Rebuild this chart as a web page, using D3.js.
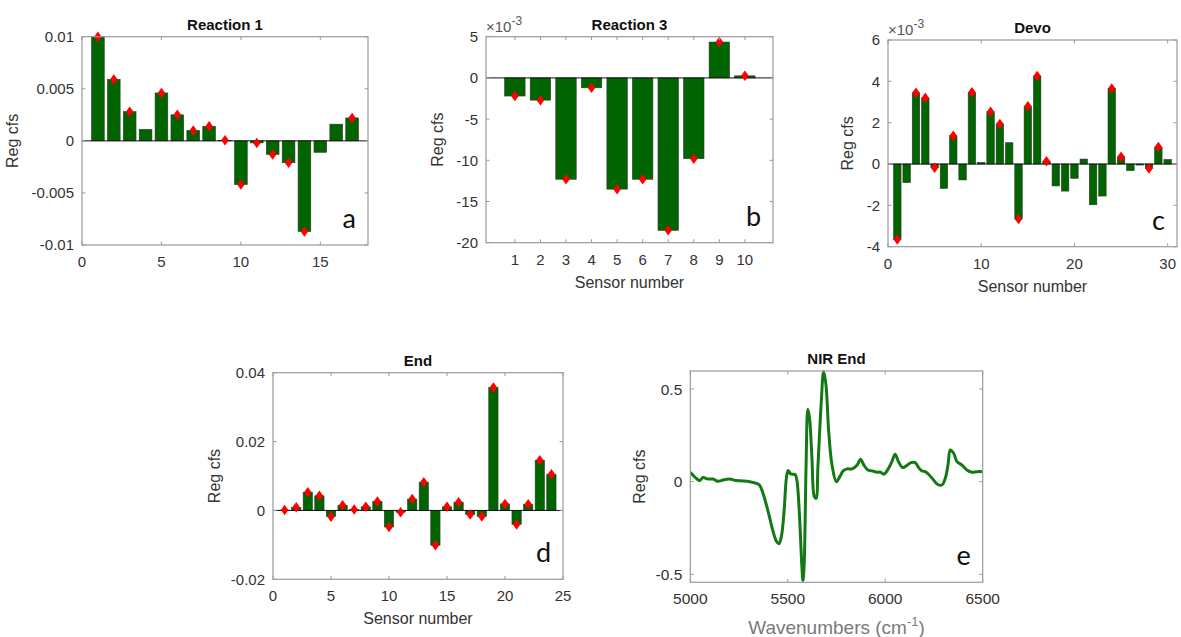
<!DOCTYPE html>
<html>
<head>
<meta charset="utf-8">
<script src="https://cdn.jsdelivr.net/npm/d3@7"></script>
<style>
  body { margin: 0; background: #fff; }
  svg { display: block; font-family: "Liberation Sans", Arial, sans-serif; }
</style>
</head>
<body>
<svg id="chart" width="1181" height="637"></svg>
<script>
// --- data ---
const reaction1 = [0.0100, 0.0059, 0.0028, 0.0011, 0.0046, 0.0025, 0.0010, 0.0014, 0.00005,
  -0.0042, -0.0002, -0.0013, -0.0021, -0.0087, -0.0011, 0.0016, 0.0022];
const reaction1Marked = [1, 2, 3, 5, 6, 7, 8, 9, 10, 11, 12, 13, 14, 17];

const reaction3 = [-0.0022, -0.0027, -0.0123, -0.0012, -0.0135, -0.0123, -0.0185, -0.0098, 0.00435, 0.00025];
const reaction3Marked = [1, 2, 3, 4, 5, 6, 7, 8, 9, 10];

const devo = [-0.00365, -0.0009, 0.00345, 0.0032, -0.00018, -0.00118, 0.00137, -0.00077, 0.00347, 0.00008,
  0.00253, 0.00194, 0.00103, -0.00266, 0.0028, 0.00426, 0.00013, -0.00106, -0.00131, -0.00069,
  0.00024, -0.00197, -0.00155, 0.00365, 0.00035, -0.00032, -0.00005, -0.00022, 0.00082, 0.00022];
const devoMarked = [1, 3, 4, 5, 7, 9, 11, 12, 14, 15, 16, 17, 24, 25, 28, 29];

const endVals = [0.0001, 0.0009, 0.0053, 0.00425, -0.0018, 0.0015, 0.0003, 0.00105, 0.0026, -0.0048,
  -0.0005, 0.0033, 0.0082, -0.0101, 0.00105, 0.0024, -0.00115, -0.00175, 0.0357, 0.0019,
  -0.00405, 0.0018, 0.0146, 0.0105];
const endMarked = d3.range(1, 25);

const nirWavenumber = [5000, 5005, 5020, 5031, 5048, 5065, 5091, 5116, 5142, 5168, 5202, 5236, 5271, 5305,
  5339, 5356, 5373, 5399, 5425, 5442, 5454, 5467, 5481, 5493, 5502, 5515, 5532, 5540, 5548, 5560,
  5572, 5578, 5584, 5594, 5603, 5612, 5624, 5636, 5645, 5655, 5671, 5684, 5696, 5710, 5727, 5749,
  5767, 5784, 5804, 5830, 5856, 5873, 5890, 5911, 5933, 5959, 5976, 5993, 6017, 6034, 6051, 6068,
  6090, 6111, 6132, 6154, 6171, 6188, 6205, 6222, 6248, 6268, 6291, 6308, 6322, 6334, 6351, 6368,
  6393, 6419, 6445, 6471, 6500];
const nirCoef = [0.05, 0.045, 0.028, 0.018, 0.006, 0.022, 0.014, 0.014, 0.002, 0.009, 0.014, 0.006, 0.004, 0.0,
  -0.009, -0.02, -0.063, -0.16, -0.27, -0.322, -0.335, -0.297, -0.16, 0.02, 0.06, 0.042, 0.04, 0.035, 0.0, -0.18,
  -0.45, -0.535, -0.45, 0.09, 0.39, 0.34, 0.128, -0.08, -0.09, 0.09, 0.414, 0.594, 0.522, 0.27, 0.09, 0.0,
  0.027, 0.058, 0.069, 0.069, 0.09, 0.121, 0.09, 0.063, 0.058, 0.051, 0.051, 0.04, 0.072, 0.108, 0.148, 0.108,
  0.076, 0.087, 0.103, 0.103, 0.076, 0.058, 0.054, 0.04, 0.009, -0.014, -0.018, 0.018, 0.09, 0.171, 0.153, 0.108,
  0.09, 0.063, 0.051, 0.054, 0.054];

const svg = d3.select("#chart");
const boxColor = "#9a9a9a";
const textColor = "#333";
const barFill = "#006400";

// axes frame with ticks inside on all four sides (matlab style)
function frame(g, b, x, y, xTicks, yTicks, xFmt, yFmt, fs) {
  g.append("rect")
    .attr("x", b.left).attr("y", b.top)
    .attr("width", b.right - b.left).attr("height", b.bottom - b.top)
    .attr("fill", "none").attr("stroke", boxColor).attr("stroke-width", 1.2);

  const tl = 3.5;
  xTicks.forEach(t => {
    const px = x(t);
    g.append("line").attr("x1", px).attr("x2", px).attr("y1", b.bottom).attr("y2", b.bottom - tl).attr("stroke", boxColor);
    g.append("line").attr("x1", px).attr("x2", px).attr("y1", b.top).attr("y2", b.top + tl).attr("stroke", boxColor);
    g.append("text").attr("x", px).attr("y", b.bottom + 22)
      .attr("text-anchor", "middle").attr("font-size", fs).attr("fill", textColor)
      .text(xFmt(t));
  });
  yTicks.forEach(t => {
    const py = y(t);
    g.append("line").attr("x1", b.left).attr("x2", b.left + tl).attr("y1", py).attr("y2", py).attr("stroke", boxColor);
    g.append("line").attr("x1", b.right).attr("x2", b.right - tl).attr("y1", py).attr("y2", py).attr("stroke", boxColor);
    g.append("text").attr("x", b.left - 8).attr("y", py).attr("dy", "0.36em")
      .attr("text-anchor", "end").attr("font-size", fs).attr("fill", textColor)
      .text(yFmt(t));
  });
}

function labels(g, b, cfg) {
  const cx = (b.left + b.right) / 2;
  g.append("text").attr("x", cx).attr("y", b.top - 7)
    .attr("text-anchor", "middle").attr("font-weight", "bold").attr("font-size", 15).attr("fill", "#111")
    .text(cfg.title);

  g.append("text")
    .attr("transform", `translate(${b.left + cfg.ylabelDx},${(b.top + b.bottom) / 2}) rotate(-90)`)
    .attr("text-anchor", "middle").attr("font-size", 16).attr("fill", textColor)
    .text("Reg cfs");

  if (cfg.xlabel) {
    g.append("text").attr("x", cx).attr("y", b.bottom + 45)
      .attr("text-anchor", "middle").attr("font-size", 16).attr("fill", textColor)
      .text(cfg.xlabel);
  }

  if (cfg.exponent) {
    const t = g.append("text").attr("x", b.left).attr("y", b.top - 5)
      .attr("font-size", 15).attr("fill", "#555");
    t.append("tspan").text("\u00d710");
    t.append("tspan").attr("dy", -7).attr("font-size", 12).text("-3");
  }

  g.append("text").attr("x", b.right - 12).attr("y", b.bottom - 17)
    .attr("text-anchor", "end").attr("font-family", "Lato, 'Open Sans', sans-serif")
    .attr("font-size", 27).attr("fill", "#111")
    .text(cfg.letter);
}

function barPanel(cfg) {
  const b = cfg.box;
  const g = svg.append("g");
  const x = d3.scaleLinear().domain(cfg.xDomain).range([b.left, b.right]);
  const y = d3.scaleLinear().domain(cfg.yDomain).range([b.bottom, b.top]);
  const bw = x(0.8) - x(0);

  g.selectAll("rect.bar")
    .data(cfg.values)
    .enter().append("rect")
    .attr("class", "bar")
    .attr("x", (d, i) => x(i + 1) - bw / 2)
    .attr("width", bw)
    .attr("y", d => y(Math.max(0, d)))
    .attr("height", d => Math.abs(y(d) - y(0)))
    .attr("fill", barFill)
    .attr("stroke", "#2a3a2a")
    .attr("stroke-width", 0.6);

  // baseline
  g.append("line").attr("x1", b.left).attr("x2", b.right)
    .attr("y1", y(0)).attr("y2", y(0)).attr("stroke", "#111").attr("stroke-width", 1);

  g.selectAll("path.mark")
    .data(cfg.marked)
    .enter().append("path")
    .attr("class", "mark")
    .attr("d", d3.symbol().type(d3.symbolDiamond).size(50))
    .attr("transform", i => `translate(${x(i)},${y(cfg.values[i - 1])}) scale(1,0.8)`)
    .attr("fill", "#ff0000");

  frame(g, b, x, y, cfg.xTicks, cfg.yTicks, cfg.xFmt || (d => d), cfg.yFmt, 15);
  labels(g, b, cfg);
}

const plain = d => d === 0 ? "0" : String(d);
const milli = d => String(Math.round(d * 1000));

barPanel({
  box: { left: 82, right: 368, top: 36.7, bottom: 245 },
  xDomain: [0, 18], yDomain: [-0.01, 0.01],
  xTicks: [0, 5, 10, 15], yTicks: [-0.01, -0.005, 0, 0.005, 0.01], yFmt: plain,
  values: reaction1, marked: reaction1Marked,
  title: "Reaction 1", letter: "a", ylabelDx: -64
});

barPanel({
  box: { left: 486, right: 773, top: 36.7, bottom: 242.7 },
  xDomain: [-0.13, 11.1], yDomain: [-0.02, 0.005],
  xTicks: d3.range(1, 11), yTicks: [-0.02, -0.015, -0.01, -0.005, 0, 0.005], yFmt: milli,
  values: reaction3, marked: reaction3Marked,
  title: "Reaction 3", letter: "b", ylabelDx: -43, xlabel: "Sensor number", exponent: true
});

barPanel({
  box: { left: 888, right: 1177, top: 40, bottom: 246.7 },
  xDomain: [0, 31], yDomain: [-0.004, 0.006],
  xTicks: [0, 10, 20, 30], yTicks: [-0.004, -0.002, 0, 0.002, 0.004, 0.006], yFmt: milli,
  values: devo, marked: devoMarked,
  title: "Devo", letter: "c", ylabelDx: -35, xlabel: "Sensor number", exponent: true
});

barPanel({
  box: { left: 273, right: 563, top: 372.7, bottom: 579.3 },
  xDomain: [0, 25], yDomain: [-0.02, 0.04],
  xTicks: [0, 5, 10, 15, 20, 25], yTicks: [-0.02, 0, 0.02, 0.04], yFmt: plain,
  values: endVals, marked: endMarked,
  title: "End", letter: "d", ylabelDx: -53, xlabel: "Sensor number"
});

// --- NIR spectrum panel ---
(function () {
  const b = { left: 690.3, right: 982.7, top: 371, bottom: 582.3 };
  const g = svg.append("g");
  const x = d3.scaleLinear().domain([5000, 6500]).range([b.left, b.right]);
  const y = d3.scaleLinear().domain([-0.543, 0.597]).range([b.bottom, b.top]);

  g.append("clipPath").attr("id", "nirClip")
    .append("rect").attr("x", b.left).attr("y", b.top - 2)
    .attr("width", b.right - b.left).attr("height", b.bottom - b.top + 4);

  const line = d3.line()
    .x((d, i) => x(nirWavenumber[i]))
    .y(d => y(d))
    .curve(d3.curveCatmullRom.alpha(0.5));

  g.append("path")
    .datum(nirCoef)
    .attr("clip-path", "url(#nirClip)")
    .attr("d", line)
    .attr("fill", "none")
    .attr("stroke", "#137a13")
    .attr("stroke-width", 3)
    .attr("stroke-linejoin", "round");

  frame(g, b, x, y, [5000, 5500, 6000, 6500], [-0.5, 0, 0.5], d => d, plain, 15.5);
  labels(g, b, { title: "NIR End", letter: "e", ylabelDx: -45 });

  const t = g.append("text").attr("x", (b.left + b.right) / 2).attr("y", b.bottom + 52)
    .attr("text-anchor", "middle").attr("font-size", 19).attr("fill", "#7a7a7a");
  t.append("tspan").text("Wavenumbers (cm");
  t.append("tspan").attr("dy", -8).attr("font-size", 13).text("-1");
  t.append("tspan").attr("dy", 8).text(")");
})();
</script>
</body>
</html>
